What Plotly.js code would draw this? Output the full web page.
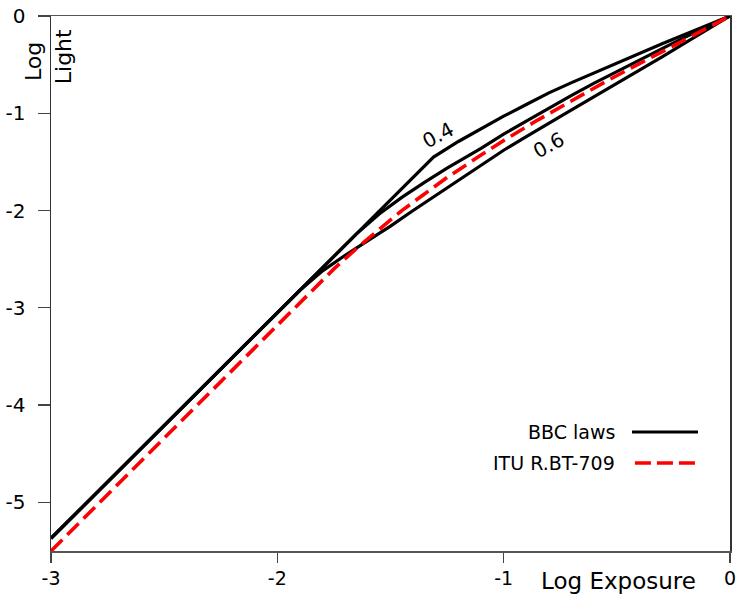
<!DOCTYPE html>
<html>
<head>
<meta charset="utf-8">
<script src="https://cdn.plot.ly/plotly-3.0.1.min.js"></script>
<style>html,body{margin:0;padding:0;background:#fff;}#chart{width:746px;height:594px;}</style>
</head>
<body>
<div id="chart"></div>
<script>
// Log exposure / log light values
const bbc04X = [-3, -1.31, -1.2, -1.1, -1.0, -0.9, -0.8, -0.7, -0.6, -0.5, -0.4, -0.3, -0.2, -0.1, 0];
const bbc04Y = [-5.37, -1.45, -1.29, -1.16, -1.03, -0.91, -0.79, -0.685, -0.585, -0.48, -0.38, -0.285, -0.19, -0.095, 0];

const bbc05X = [-3, -1.65, -1.55, -1.45, -1.35, -1.25, -1.1, -1.0, -0.9, -0.8, -0.7, -0.6, -0.5, -0.4, -0.3, -0.2, -0.1, 0];
const bbc05Y = [-5.37, -2.24, -2.035, -1.865, -1.71, -1.565, -1.36, -1.215, -1.08, -0.945, -0.815, -0.69, -0.57, -0.45, -0.335, -0.22, -0.11, 0];

const bbc06X = [-3, -1.9, -1.8, -1.7, -1.6, -1.5, -1.4, -1.3, -1.2, -1.1, -1.0, -0.9, -0.8, -0.7, -0.6, -0.5, -0.4, -0.3, -0.2, -0.1, 0];
const bbc06Y = [-5.37, -2.82, -2.62, -2.46, -2.31, -2.16, -2.0, -1.845, -1.695, -1.54, -1.38, -1.24, -1.10, -0.965, -0.83, -0.695, -0.555, -0.42, -0.28, -0.14, 0];

const ituX = [-3, -2.5, -2.0, -1.75, -1.65, -1.55, -1.45, -1.35, -1.25, -1.1, -1.0, -0.85, -0.7, -0.55, -0.4, -0.25, -0.1, 0];
const ituY = [-5.5, -4.34, -3.18, -2.6, -2.39, -2.19, -2.0, -1.83, -1.66, -1.43, -1.28, -1.07, -0.87, -0.675, -0.49, -0.305, -0.12, 0];

const xTicks = [-3, -2, -1, 0];
const xTickText = ['-3', '-2', '-1', '0'];
const yTicks = [0, -1, -2, -3, -4, -5];
const yTickText = ['0', '-1', '-2', '-3', '-4', '-5'];

const curveLabels = [
  {text: '0.4', x: -1.29, y: -1.22},
  {text: '0.6', x: -0.80, y: -1.33}
];
const legendNames = ['BBC laws', 'ITU R.BT-709'];

const FONT = 'DejaVu Sans, Verdana, sans-serif';
const blackLine = {color: '#000', width: 3.2, shape: 'linear'};

const traces = [
  {x: bbc04X, y: bbc04Y, mode: 'lines', line: blackLine, showlegend: false, hoverinfo: 'skip'},
  {x: bbc05X, y: bbc05Y, mode: 'lines', line: blackLine, showlegend: false, hoverinfo: 'skip'},
  {x: bbc06X, y: bbc06Y, mode: 'lines', line: blackLine, showlegend: false, hoverinfo: 'skip'},
  {x: ituX, y: ituY, mode: 'lines', line: {color: '#ff0000', width: 3.6, dash: '16px,7px'}, showlegend: false, hoverinfo: 'skip'}
];

const annotations = [
  {text: 'Log', xref: 'paper', yref: 'paper', x: -0.0265, y: 0.914, textangle: -90, showarrow: false,
   xanchor: 'center', yanchor: 'middle', font: {family: FONT, size: 22, color: '#000'}},
  {text: 'Light', xref: 'paper', yref: 'paper', x: 0.0177, y: 0.923, textangle: -90, showarrow: false,
   xanchor: 'center', yanchor: 'middle', font: {family: FONT, size: 22, color: '#000'}},
  {text: 'Log Exposure', xref: 'paper', yref: 'paper', x: 0.8365, y: -0.056, showarrow: false,
   xanchor: 'center', yanchor: 'middle', font: {family: FONT, size: 23, color: '#000'}},
  {text: legendNames[0], xref: 'paper', yref: 'paper', x: 0.8336, y: 0.2224, showarrow: false,
   xanchor: 'right', yanchor: 'middle', font: {family: FONT, size: 19, color: '#000'}},
  {text: legendNames[1], xref: 'paper', yref: 'paper', x: 0.8336, y: 0.1645, showarrow: false,
   xanchor: 'right', yanchor: 'middle', font: {family: FONT, size: 19, color: '#000'}}
];
curveLabels.forEach(l => annotations.push({
  text: l.text, x: l.x, y: l.y, xref: 'x', yref: 'y', showarrow: false, textangle: -28,
  xanchor: 'center', yanchor: 'middle', font: {family: FONT, size: 20, color: '#000'}
}));

const shapes = [
  {type: 'line', xref: 'paper', yref: 'paper', x0: 0.8557, x1: 0.9529, y0: 0.2224, y1: 0.2224,
   line: {color: '#000', width: 3.2}},
  {type: 'line', xref: 'paper', yref: 'paper', x0: 0.8600, x1: 0.9529, y0: 0.1645, y1: 0.1645,
   line: {color: '#ff0000', width: 3.6, dash: '16px,6px'}}
];

const layout = {
  width: 746, height: 594,
  margin: {l: 51, r: 16, t: 16, b: 43, pad: 0},
  paper_bgcolor: '#fff', plot_bgcolor: '#fff',
  font: {family: FONT, size: 18, color: '#000'},
  showlegend: false,
  xaxis: {
    range: [-3, 0], tickmode: 'array', tickvals: xTicks, ticktext: xTickText,
    ticks: 'outside', ticklen: 10, tickwidth: 1.2, tickcolor: '#444',
    showline: true, linecolor: '#555', linewidth: 1.5, mirror: true,
    showgrid: false, zeroline: false, ticklabelstandoff: 0,
    tickfont: {family: FONT, size: 19, color: '#000'}
  },
  yaxis: {
    range: [-5.5, 0], tickmode: 'array', tickvals: yTicks, ticktext: yTickText,
    ticks: 'outside', ticklen: 12, tickwidth: 1.2, tickcolor: '#444',
    showline: true, linecolor: '#333', linewidth: 1.5, mirror: true,
    showgrid: false, zeroline: false, ticklabelstandoff: 8,
    tickfont: {family: FONT, size: 20, color: '#000'}
  },
  annotations: annotations,
  shapes: shapes
};

Plotly.newPlot('chart', traces, layout, {staticPlot: true, displayModeBar: false});
</script>
</body>
</html>
